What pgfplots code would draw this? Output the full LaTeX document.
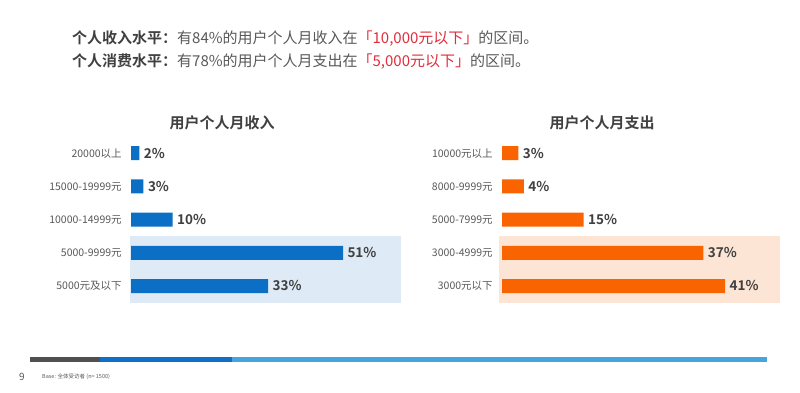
\documentclass[border=0pt]{standalone}
\usepackage{fontspec}
\setmainfont{Noto Sans CJK SC}[BoldFont={Noto Sans CJK SC Bold}]
\usepackage{pgfplots}
\pgfplotsset{compat=1.18}
\definecolor{barblue}{HTML}{0B6FC6}
\definecolor{barorange}{HTML}{FA6400}
\definecolor{hlblue}{HTML}{DEEAF6}
\definecolor{hlpeach}{HTML}{FDE5D6}
\definecolor{labelgray}{HTML}{595959}
\definecolor{valgray}{HTML}{404040}
\definecolor{hdrred}{HTML}{E32C3C}
\definecolor{stripdark}{HTML}{505050}
\definecolor{stripblue}{HTML}{0F6FC6}
\definecolor{striplight}{HTML}{45A5DC}
\pgfplotsset{
  mybars/.style={
    scale only axis, height=166pt,
    ymin=-0.5, ymax=4.5,
    xbar, bar width=14pt,
    axis line style={draw=none},
    xtick=\empty, ytick={0,1,2,3,4},
    ytick style={draw=none},
    yticklabel style={font=\fontsize{10.5}{12}\selectfont, text=labelgray, xshift=-1.5pt},
    /pgf/number format/assume math mode=true,
    nodes near coords={\pgfmathprintnumber{\pgfplotspointmeta}\%},
    point meta=x,
    every node near coord/.append style={font=\fontsize{13.5}{15}\selectfont\bfseries, text=valgray, anchor=west, xshift=1pt},
    clip=false,
  }
}
\begin{document}
\begin{tikzpicture}[x=1pt,y=1pt]
\fill[white] (0,0) rectangle (800,392);
\useasboundingbox (0,0) rectangle (800,392);
% header
\node[anchor=west, inner sep=0pt, text=labelgray, font=\fontsize{15}{17}\selectfont] at (72,353)
  {{\bfseries\color{valgray}个人收入水平：}有84\%的用户个人月收入在{\color{hdrred}「10,000元以下」}的区间。};
\node[anchor=west, inner sep=0pt, text=labelgray, font=\fontsize{15}{17}\selectfont] at (72,330)
  {{\bfseries\color{valgray}个人消费水平：}有78\%的用户个人月支出在{\color{hdrred}「5,000元以下」}的区间。};
% titles
\node[font=\fontsize{15}{17}\selectfont\bfseries, text=valgray] at (222,269) {用户个人月收入};
\node[font=\fontsize{15}{17}\selectfont\bfseries, text=valgray] at (602,269) {用户个人月支出};
% left chart
\begin{axis}[mybars, at={(131pt,89.4pt)}, anchor=south west, width=270.2pt,
  xmin=0, xmax=65,
  yticklabels={5000元及以下,5000-9999元,10000-14999元,15000-19999元,20000以上}]
  \fill[hlblue] (axis cs:-0.3,-0.5) rectangle (axis cs:65,1.5);
  \addplot[fill=barblue, draw=none] coordinates {(33,0) (51,1) (10,2) (3,3) (2,4)};
\end{axis}
% right chart
\begin{axis}[mybars, at={(502pt,89.4pt)}, anchor=south west, width=278pt,
  xmin=0, xmax=51.1,
  yticklabels={3000元以下,3000-4999元,5000-7999元,8000-9999元,10000元以上}]
  \fill[hlpeach] (axis cs:-0.5,-0.5) rectangle (axis cs:51.1,1.5);
  \addplot[fill=barorange, draw=none] coordinates {(41,0) (37,1) (15,2) (4,3) (3,4)};
\end{axis}
% bottom strip
\fill[stripdark] (30,30) rectangle (100,35);
\fill[stripblue] (100,30) rectangle (232,35);
\fill[striplight] (232,30) rectangle (767,35);
\node[font=\fontsize{10}{11}\selectfont, text=labelgray] at (22,15) {9};
\node[anchor=west, inner sep=0pt, font=\fontsize{5.5}{6}\selectfont, text=labelgray] at (42,15) {Base: 全体受访者 (n= 1500)};
\end{tikzpicture}
\end{document}
